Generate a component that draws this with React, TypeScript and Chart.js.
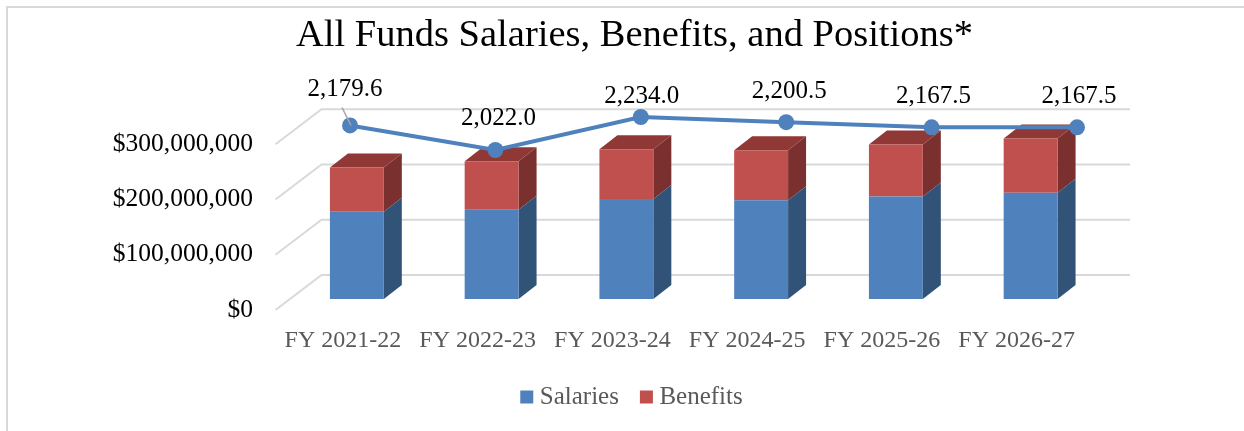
import React, { useEffect, useRef } from "react";
import { Chart, registerables } from "chart.js";

Chart.register(...registerables);

const categories = ["FY 2021-22", "FY 2022-23", "FY 2023-24", "FY 2024-25", "FY 2025-26", "FY 2026-27"];
const salaries = [158000000, 161500000, 181000000, 179000000, 185700000, 192200000];
const benefits = [80000000, 88000000, 90000000, 90400000, 94000000, 98300000];
const positions = [2179.6, 2022.0, 2234.0, 2200.5, 2167.5, 2167.5];
const positionLabels = ["2,179.6", "2,022.0", "2,234.0", "2,200.5", "2,167.5", "2,167.5"];
const yTicks = [0, 100000000, 200000000, 300000000];

const labelOffsets = [
  [-5, -36],
  [3, -32],
  [1, -21],
  [3, -31],
  [2, -31],
  [2, -31],
];

const FONT = '"Liberation Serif", serif';
const WALL_DX = 46;
const WALL_DY = 35;
const BAR_DX = 18;
const BAR_DY = 14;
const FLOOR_DX = 14;
const FLOOR_DY = -11;

const sideColors = ["#325378", "#7A302E"];
const TOP_COLOR = "#8F3835";

const wallPlugin = {
  id: "wall",
  beforeDatasetsDraw(chart: any) {
    const { ctx, chartArea, scales } = chart;
    ctx.save();
    ctx.strokeStyle = "#D9D9D9";
    ctx.lineWidth = 2;
    for (const v of yTicks) {
      const y = scales.y.getPixelForValue(v);
      ctx.beginPath();
      ctx.moveTo(chartArea.left, y);
      ctx.lineTo(chartArea.left + WALL_DX, y - WALL_DY);
      ctx.lineTo(chartArea.right + WALL_DX, y - WALL_DY);
      ctx.stroke();
    }
    ctx.restore();
  },
};

const poly = (ctx: any, pts: number[][], color: string) => {
  ctx.fillStyle = color;
  ctx.beginPath();
  pts.forEach((p, i) => (i ? ctx.lineTo(p[0], p[1]) : ctx.moveTo(p[0], p[1])));
  ctx.closePath();
  ctx.fill();
};

const bar3dPlugin = {
  id: "bar3d",
  beforeDatasetDraw(chart: any, args: any) {
    const meta = chart.getDatasetMeta(args.index);
    if (meta.type !== "bar") return;
    const ctx = chart.ctx;
    ctx.save();
    ctx.translate(FLOOR_DX, FLOOR_DY);
    meta.data.forEach((el: any) => {
      const p = el.getProps(["x", "y", "base", "width"], true);
      const r = p.x + p.width / 2;
      const l = p.x - p.width / 2;
      poly(
        ctx,
        [
          [r, p.y],
          [r + BAR_DX, p.y - BAR_DY],
          [r + BAR_DX, p.base - BAR_DY],
          [r, p.base],
        ],
        sideColors[args.index]
      );
      if (args.index === 1) {
        poly(
          ctx,
          [
            [l, p.y],
            [l + BAR_DX, p.y - BAR_DY],
            [r + BAR_DX, p.y - BAR_DY],
            [r, p.y],
          ],
          TOP_COLOR
        );
      }
    });
  },
  afterDatasetDraw(chart: any, args: any) {
    const meta = chart.getDatasetMeta(args.index);
    if (meta.type !== "bar") return;
    chart.ctx.restore();
  },
};

const lineLabelPlugin = {
  id: "lineLabels",
  afterDatasetsDraw(chart: any) {
    const ctx = chart.ctx;
    const meta = chart.getDatasetMeta(2);
    ctx.save();
    const first = meta.data[0];
    ctx.strokeStyle = "#A6A6A6";
    ctx.lineWidth = 1.5;
    ctx.beginPath();
    ctx.moveTo(first.x - 8, first.y - 18);
    ctx.lineTo(first.x + 1, first.y);
    ctx.stroke();
    ctx.fillStyle = "#000000";
    ctx.font = `25px ${FONT}`;
    ctx.textAlign = "center";
    ctx.textBaseline = "middle";
    meta.data.forEach((pt: any, i: number) => {
      ctx.fillText(positionLabels[i], pt.x + labelOffsets[i][0], pt.y + labelOffsets[i][1]);
    });
    ctx.restore();
  },
};

export default function App() {
  const ref = useRef<HTMLCanvasElement>(null);
  useEffect(() => {
    const chart = new Chart(ref.current as HTMLCanvasElement, {
      type: "bar",
      plugins: [wallPlugin, bar3dPlugin, lineLabelPlugin],
      data: {
        labels: categories,
        datasets: [
          {
            label: "Salaries",
            data: salaries,
            backgroundColor: "#4F81BD",
            stack: "s",
            order: 1,
            clip: false,
            grouped: false,
            xAxisID: "x",
            yAxisID: "y",
            barPercentage: 0.4,
            categoryPercentage: 1,
          },
          {
            label: "Benefits",
            data: benefits,
            backgroundColor: "#C0504D",
            stack: "s",
            order: 1,
            clip: false,
            grouped: false,
            xAxisID: "x",
            yAxisID: "y",
            barPercentage: 0.4,
            categoryPercentage: 1,
          },
          {
            type: "line",
            label: "Positions",
            data: positions.map((v, i) => ({ x: i, y: v })),
            borderColor: "#4F81BD",
            backgroundColor: "#4F81BD",
            borderWidth: 4,
            pointRadius: 8,
            pointBackgroundColor: "#4F81BD",
            pointBorderWidth: 0,
            tension: 0,
            order: 0,
            clip: false,
            xAxisID: "xLine",
            yAxisID: "yLine",
          },
        ] as any,
      },
      options: {
        animation: false,
        responsive: false,
        maintainAspectRatio: false,
        layout: { padding: { left: 25, right: 0, top: 0, bottom: 11.5 } },
        plugins: {
          tooltip: { enabled: false },
          title: {
            display: true,
            text: "All Funds Salaries, Benefits, and Positions*",
            color: "#000000",
            font: { family: FONT, size: 38.5, weight: "normal", lineHeight: 1.2 },
            padding: { top: 13, bottom: 20.8 },
          },
          legend: {
            position: "bottom",
            labels: {
              color: "#595959",
              font: { family: FONT, size: 25 },
              usePointStyle: true,
              pointStyle: "rect",
              boxWidth: 1,
              boxHeight: 13,
              padding: 27,
              filter: (item: any) => item.text !== "Positions",
            },
          },
        },
        scales: {
          x: {
            type: "category",
            position: "bottom",
            stacked: true,
            grid: { display: false, drawTicks: false },
            border: { display: false },
            ticks: { color: "#595959", font: { family: FONT, size: 24 }, padding: 16, maxRotation: 0, autoSkip: false },
            afterFit: (s: any) => {
              s.height = 47.5;
            },
          },
          y: {
            type: "linear",
            position: "left",
            min: 0,
            max: 416400000,
            stacked: true,
            grid: { display: false, drawTicks: false },
            border: { display: false },
            afterBuildTicks: (s: any) => {
              s.ticks = yTicks.map((value) => ({ value }));
            },
            ticks: {
              color: "#000000",
              font: { family: FONT, size: 25.5 },
              padding: 22.5,
              callback: (v: any) => "$" + Number(v).toLocaleString("en-US"),
            },
            afterFit: (s: any) => {
              s.width = 250.5;
            },
          },
          xLine: { type: "linear", display: false, offset: false, min: -0.5124, max: 5.048 },
          yLine: {
            type: "linear",
            position: "right",
            min: 994.4,
            max: 2471.6,
            grid: { display: false, drawTicks: false },
            border: { display: false },
            ticks: { display: false },
            afterFit: (s: any) => {
              s.width = 160;
            },
          },
        },
      } as any,
    });
    return () => chart.destroy();
  }, []);

  return (
    <div style={{ position: "fixed", left: 0, top: 0, width: 1244, height: 431, overflow: "hidden", background: "#fff" }}>
      <div
        style={{
          position: "absolute",
          left: 6,
          top: 6,
          right: -4,
          bottom: -4,
          borderLeft: "2px solid #D9D9D9",
          borderTop: "2px solid #D9D9D9",
        }}
      />
      <canvas ref={ref} width={1244} height={431} style={{ position: "absolute", left: 0, top: 0, display: "block" }} />
    </div>
  );
}
